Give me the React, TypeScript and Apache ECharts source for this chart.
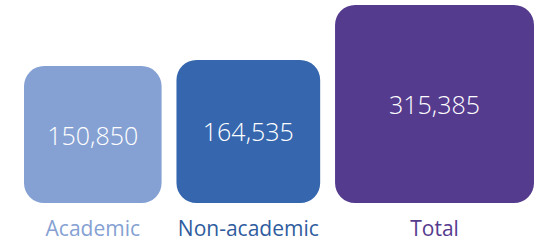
import React, { useEffect, useRef } from "react";
import * as echarts from "echarts";

const categories = ["Academic", "Non-academic", "Total"];
const values = [150850, 164535, 315385];
const boxColors = ["#85a1d3", "#3667ae", "#553b8e"];
const labelColors = ["#85a1d3", "#2f5c9e", "#553b8e"];

const GAP_UNITS = 42; // gap between squares in sqrt-value units

export default function App() {
  const ref = useRef<HTMLDivElement>(null);
  useEffect(() => {
    if (!ref.current) return;
    const chart = echarts.init(ref.current, undefined, { renderer: "svg" });
    const sides = values.map((v) => Math.sqrt(v));
    const starts: number[] = [];
    let acc = 0;
    sides.forEach((s, i) => {
      starts.push(acc);
      acc += s + (i < sides.length - 1 ? GAP_UNITS : 0);
    });
    const maxSide = Math.max(...sides);
    const data = values.map((v, i) => [starts[i], v, i]);
    chart.setOption({
      animation: false,
      grid: { left: 24, right: 3, top: 5, bottom: 39 },
      xAxis: { type: "value", min: 0, max: acc, show: false },
      yAxis: { type: "value", min: 0, max: maxSide, show: false },
      series: [
        {
          type: "custom",
          data,
          renderItem: (params: any, api: any) => {
            const x0 = api.value(0);
            const v = api.value(1);
            const idx = api.value(2);
            const side = Math.sqrt(v);
            const p0 = api.coord([x0, 0]);
            const p1 = api.coord([x0 + side, side]);
            const w = p1[0] - p0[0];
            const h = p0[1] - p1[1];
            const cx = p0[0] + w / 2;
            return {
              type: "group",
              children: [
                {
                  type: "rect",
                  shape: { x: p0[0], y: p1[1], width: w, height: h, r: 20 },
                  style: { fill: boxColors[idx] },
                },
                {
                  type: "text",
                  x: cx,
                  y: p1[1] + h / 2,
                  style: {
                    text: v.toLocaleString("en-US"),
                    fill: "#ffffff",
                    font: "300 25px 'Open Sans', sans-serif",
                    align: "center",
                    verticalAlign: "middle",
                  },
                },
                {
                  type: "text",
                  x: cx,
                  y: p0[1] + 25,
                  style: {
                    text: categories[idx],
                    fill: labelColors[idx],
                    font: "21px 'Open Sans', sans-serif",
                    align: "center",
                    verticalAlign: "middle",
                  },
                },
              ],
            };
          },
        },
      ],
    });
    return () => chart.dispose();
  }, []);
  return <div ref={ref} style={{ width: 537, height: 242, position: "absolute", left: 0, top: 0 }} />;
}
